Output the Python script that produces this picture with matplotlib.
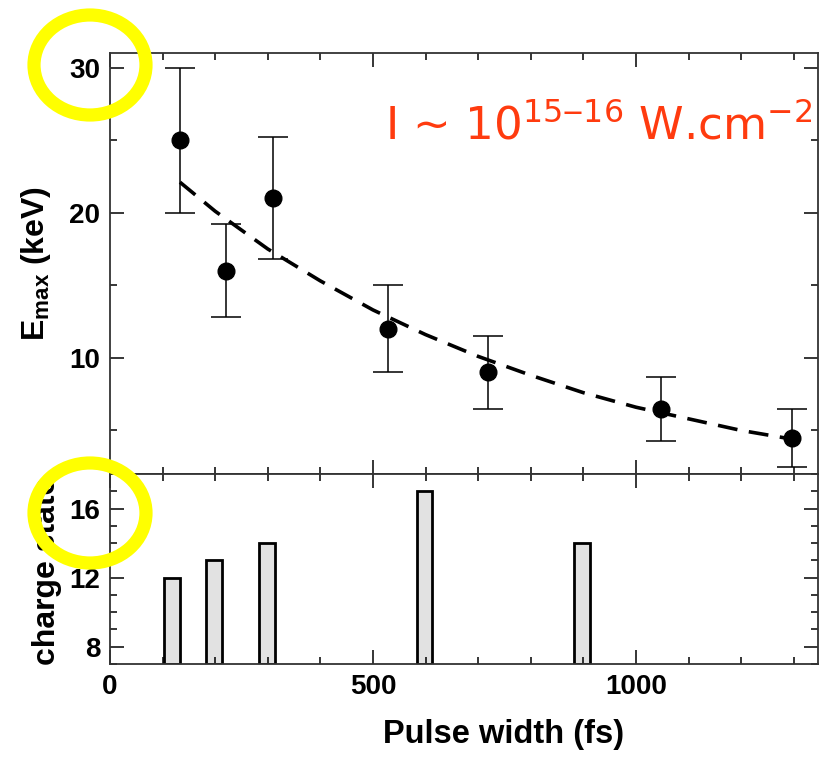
import matplotlib
matplotlib.use('Agg')
import matplotlib.pyplot as plt
from matplotlib.patches import Ellipse
from matplotlib.ticker import MultipleLocator

plt.rcParams['font.family'] = ['Liberation Sans', 'DejaVu Sans']
plt.rcParams['font.weight'] = 'bold'
plt.rcParams['mathtext.default'] = 'regular'

# measured points (pulse width fs, Emax keV, error)
pulse = [133, 220, 309, 528, 718, 1047, 1297]
emax = [25.0, 16.0, 21.0, 12.0, 9.0, 6.5, 4.45]
err_lo = [5.0, 3.2, 4.2, 3.0, 2.5, 2.2, 1.95]
err_hi = [5.0, 3.2, 4.2, 3.0, 2.5, 2.2, 2.0]

# dashed trend line
fit_x = [133, 200, 300, 400, 500, 600, 700, 800, 900, 1000, 1100, 1200, 1297]
fit_y = [22.1, 20.1, 17.5, 15.3, 13.3, 11.6, 10.1, 8.8, 7.6, 6.6, 5.8, 5.0, 4.4]

# charge state bars
bar_x = [118, 198, 298, 598, 898]
charge = [12, 13, 14, 17, 14]

W, H = 822, 757
fig = plt.figure(figsize=(W / 100, H / 100), dpi=100)
ax1 = fig.add_axes([110 / W, 1 - 474 / H, 708 / W, 421 / H])
ax2 = fig.add_axes([110 / W, 1 - 664 / H, 708 / W, 190 / H], sharex=ax1)

ax1.errorbar(pulse, emax, yerr=[err_lo, err_hi], fmt='o', color='black', ms=12,
             ecolor='black', elinewidth=1.1, capsize=11, capthick=1.1)
ax1.plot(fit_x, fit_y, color='black', lw=2.6, dashes=(5.5, 3.2))
ax1.set_ylim(2, 31)
ax1.yaxis.set_major_locator(MultipleLocator(10))
ax1.yaxis.set_minor_locator(MultipleLocator(5))
ax1.set_ylabel('E$_{max}$ (keV)', fontsize=23, fontweight='bold')
ax1.yaxis.set_label_coords(-0.08, 0.50)

ax2.bar(bar_x, [c - 7 for c in charge], bottom=7, width=30, color='#e2e2e2',
        edgecolor='black', linewidth=2)
ax2.set_ylim(7, 18)
ax2.yaxis.set_major_locator(MultipleLocator(4))
ax2.yaxis.set_minor_locator(MultipleLocator(1))
ax2.set_xlim(0, 1346)
ax2.xaxis.set_major_locator(MultipleLocator(500))
ax2.xaxis.set_minor_locator(MultipleLocator(100))
ax2.set_ylabel('charge state', fontsize=23, fontweight='bold')
ax2.yaxis.set_label_coords(-0.068, 0.49)
ax2.set_xlabel('Pulse width (fs)', fontsize=23.5, fontweight='bold')
ax2.xaxis.set_label_coords(0.556, -0.29)

for ax in (ax1, ax2):
    ax.tick_params(which='both', direction='in', top=True, right=True,
                   labelsize=20, width=1.1)
    ax.tick_params(which='major', length=10, pad=7)
    ax.tick_params(which='minor', length=5)
    for s in ax.spines.values():
        s.set_linewidth(1.3)
        s.set_color('#333333')
ax1.tick_params(labelbottom=False)

fig.text(812 / W, 1 - 140 / H, 'I ~ 10$^{15\u201216}$ W.cm$^{-2}$', ha='right',
         va='baseline', color='#ff3b0f', fontsize=32.5, fontweight='normal',
         family=['DejaVu Sans'])

for cy in (65, 513):
    fig.add_artist(Ellipse((90 / W, 1 - cy / H), 112 / W, 100 / H,
                           transform=fig.transFigure, fill=False,
                           edgecolor='#ffff00', lw=9.5, zorder=10))

fig.savefig('out.png', dpi=100)
